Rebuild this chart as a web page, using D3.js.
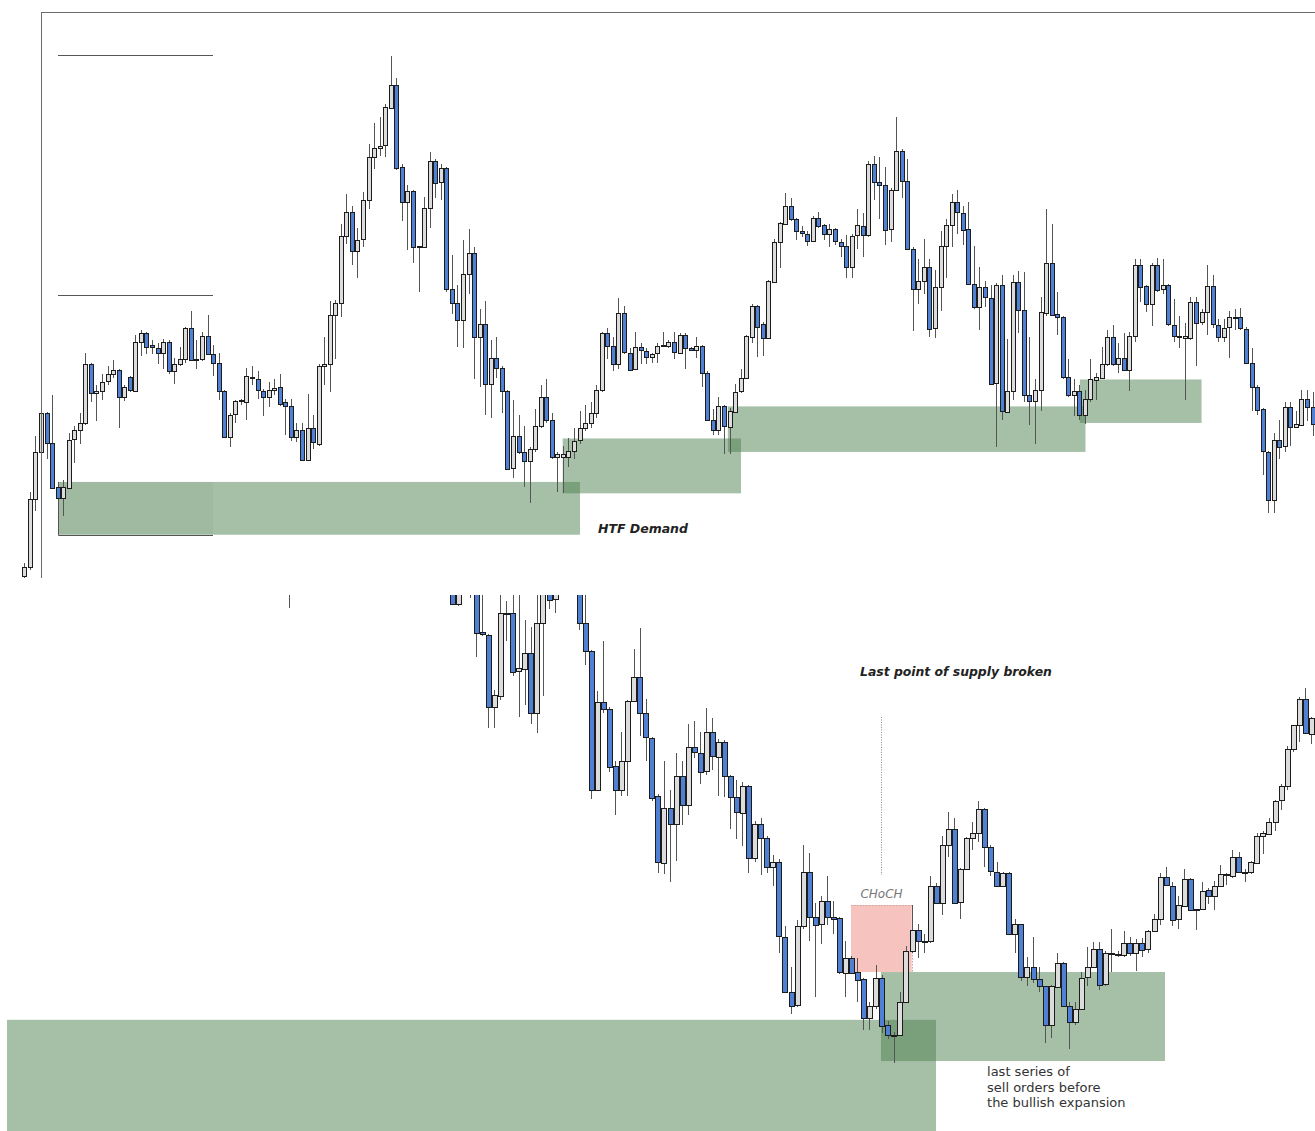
<!DOCTYPE html>
<html>
<meta charset="utf-8">
<style>
body { margin: 0; background: #fff; }
svg { display: block; }
.frame line { stroke: #6b6b6b; stroke-width: 1px; shape-rendering: crispEdges; }
.wick { stroke: #555; stroke-width: 1px; shape-rendering: crispEdges; }
.body { stroke: #1c1c1c; stroke-width: 1px; shape-rendering: crispEdges; }
.note { font-family: "DejaVu Sans", sans-serif; }
</style>
<body>
<svg width="1315" height="1131"></svg>
<script src="https://d3js.org/d3.v7.min.js"></script>
<script>

// upper chart, one row per bar: [open, high, low, close]
var topBars = [
  [42,55,22,51],[51,123,48,117],[117,177,105,162],[162,203,155,200],[200,201,155,171],
  [171,217,127,128],[128,130,100,117],[117,135,100,128],[128,180,127,174],[174,187,151,183],
  [183,200,170,190],[190,258,188,247],[247,248,210,219],[219,227,192,221],[221,237,212,230],
  [230,245,227,237],[237,251,233,241],[241,242,185,215],[215,227,211,225],[234,235,220,221],
  [221,275,220,268],[268,280,255,277],[277,278,257,263],[265,270,257,263],[262,267,247,257],
  [257,271,242,268],[268,270,237,240],[240,253,228,247],[247,263,245,252],[252,283,248,282],
  [282,298,250,251],[252,270,242,251],[252,278,250,274],[274,294,257,257],[257,265,235,248],
  [248,258,212,221],[221,222,175,177],[177,200,167,198],[198,212,190,211],[211,213,207,212],
  [210,243,193,235],[233,245,227,234],[232,240,213,221],[221,223,197,215],[215,230,205,222],
  [222,232,217,224],[225,237,206,209],[210,213,178,206],[206,213,173,176],[176,190,172,183],
  [183,190,154,154],[154,218,154,185],[185,198,165,171],[170,247,168,245],[245,273,227,247],
  [247,308,220,294],[294,309,252,306],[306,382,292,371],[371,411,363,394],[394,400,343,356],
  [356,378,330,367],[367,413,360,405],[405,460,397,447],[447,480,435,456],[456,486,448,458],
  [458,498,447,495],[495,545,493,517],[517,523,434,437],[437,440,385,403],[403,420,357,414],
  [414,415,345,360],[361,361,317,360],[360,408,360,398],[398,452,378,443],[443,445,407,422],
  [422,440,405,436],[436,437,317,319],[319,352,295,305],[306,323,263,290],[290,367,262,334],
  [334,377,315,354],[354,360,232,273],[273,300,225,286],[286,308,198,228],[228,270,195,253],
  [253,273,233,243],[243,245,200,221],[221,222,145,146],[146,212,137,177],[177,198,160,162],
  [162,187,128,153],[153,167,113,165],[165,203,162,187],[187,227,185,215],[215,232,190,193],
  [193,200,155,157],[157,162,123,160],[157,168,122,160],[157,175,147,163],[163,185,155,173],
  [173,202,170,185],[185,207,182,190],[190,210,185,200],[200,227,195,222],[222,278,220,277],
  [277,282,252,264],[264,273,240,247],[247,311,242,296],[296,303,257,258],[258,262,240,242],
  [242,278,241,263],[263,267,247,260],[260,262,247,254],[254,258,248,257],[257,267,248,264],
  [265,278,263,265],[264,270,262,268],[268,278,252,258],[258,277,257,275],[275,277,242,262],
  [262,263,260,260],[260,273,253,264],[264,265,225,238],[238,240,192,193],[193,203,178,183],
  [183,215,178,206],[206,207,160,187],[187,204,160,202],[201,228,200,220],[220,242,219,233],
  [233,275,232,274],[273,305,267,303],[303,304,254,283],[286,288,255,272],[272,328,271,327],
  [326,368,325,365],[365,384,340,383],[383,412,382,400],[400,407,385,387],[387,388,367,375],
  [375,380,370,373],[373,375,361,366],[366,390,365,388],[388,394,378,380],[381,382,367,372],
  [372,382,360,377],[377,378,362,365],[365,368,350,361],[361,372,330,341],[341,373,330,371],
  [371,397,358,381],[380,393,350,371],[371,443,370,440],[440,448,405,423],[423,447,387,420],
  [420,437,362,377],[377,417,365,415],[415,486,414,453],[453,455,407,424],[424,445,357,358],
  [358,360,279,319],[319,348,305,327],[327,368,315,341],[341,348,273,281],[281,338,272,321],
  [321,375,298,361],[361,387,330,381],[381,411,360,403],[403,415,373,393],[393,400,362,377],
  [377,403,323,324],[324,361,300,302],[302,341,280,321],[321,327,302,311],[311,323,227,228],
  [228,325,167,323],[323,333,193,201],[201,271,200,221],[221,333,212,326],[326,337,277,299],
  [299,336,210,217],[217,273,188,211],[211,232,170,222],[222,312,202,297],[297,397,293,345],
  [345,382,293,295],[295,317,275,292],[292,293,232,234],[234,252,215,217],[217,232,197,221],
  [221,227,193,198],[198,222,189,213],[213,252,210,232],[231,238,212,234],[233,263,232,247],
  [247,280,245,273],[273,285,245,247],[247,267,238,253],[253,277,240,241],[241,278,221,274],
  [274,348,268,343],[343,348,307,322],[322,323,297,305],[305,345,284,343],[343,349,317,319],
  [319,348,315,323],[323,324,284,285],[285,310,268,274],[274,293,262,274],[272,287,212,274],
  [272,312,270,307],[307,312,245,287],[287,300,285,297],[297,343,275,322],[322,333,282,285],
  [285,290,268,273],[273,290,268,282],[282,298,253,292],[292,300,280,292],[292,301,280,281],
  [281,283,247,248],[248,262,202,225],[225,227,198,203],[203,204,140,162],[162,163,103,116],
  [116,180,103,174],[174,193,155,167],[167,210,162,205],[205,210,168,186],[186,202,185,189],
  [188,222,187,213],[213,222,192,205],[205,220,177,189]
];

// lower chart: [bar, open, high, low, close]  (bars above the crop are left out)
var lowBars = [
  [-27,1640,1660,1534,1620],
  [0,1620,1640,1542,1545],[1,1545,1640,1540,1620],[3,1640,1660,1562,1620],[4,1620,1640,1395,1462],
  [5,1464,1620,1455,1457],[6,1457,1460,1190,1252],[7,1252,1300,1190,1285],[8,1282,1640,1270,1520],
  [9,1521,1555,1440,1520],[10,1520,1620,1338,1352],[11,1352,1620,1222,1362],[12,1360,1500,1255,1405],
  [13,1405,1480,1202,1232],[14,1232,1620,1175,1490],[15,1490,1640,1282,1620],[16,1580,1620,1530,1558],
  [17,1558,1620,1520,1590],
  [21,1620,1640,1470,1490],[22,1490,1620,1372,1410],[23,1410,1415,988,1012],[24,1012,1295,1010,1265],
  [25,1265,1440,1232,1245],[26,1245,1250,1065,1080],[27,1080,1095,942,1012],[28,1012,1178,995,1095],
  [29,1095,1270,995,1267],[30,1267,1418,1265,1335],[31,1335,1478,1168,1232],[32,1232,1272,1095,1162],
  [33,1162,1165,982,990],[34,995,1000,775,805],[35,805,1095,772,962],[36,962,1012,750,915],
  [37,915,1120,810,1052],[38,1052,1095,912,970],[39,970,1202,940,1135],[40,1135,1210,1105,1120],
  [41,1120,1180,1030,1065],[42,1065,1248,1055,1178],[43,1178,1220,1070,1108],[44,1108,1160,995,1150],
  [45,1150,1155,992,1052],[46,1052,1055,900,992],[47,992,1040,872,948],[48,948,1035,852,1025],
  [49,1025,1028,775,818],[50,818,925,805,915],[51,915,932,770,875],[52,875,880,775,792],
  [53,792,825,738,805],[54,805,815,545,592],[55,592,622,430,435],[56,435,505,372,395],
  [57,395,640,390,622],[58,622,855,615,778],[59,778,832,580,650],[60,650,690,420,628],
  [61,628,710,570,695],[62,695,765,625,650],[63,648,695,600,642],[64,645,650,485,490],
  [65,490,580,420,532],[66,532,538,485,490],[67,492,532,405,470],[68,472,475,325,360],
  [69,360,405,325,395],[70,395,510,385,475],[71,475,482,315,338],[72,338,350,300,310],
  [73,311,320,230,310],[74,310,435,310,405],[75,405,565,402,552],[76,552,682,545,612],
  [77,612,628,532,580],[78,580,600,545,581],[79,580,765,575,738],[80,738,745,688,690],
  [81,690,880,655,855],[82,855,950,820,902],[83,902,932,688,690],[84,690,788,642,785],
  [85,785,878,782,875],[86,875,922,840,888],[87,888,980,865,957],[88,957,960,792,848],
  [89,848,855,765,778],[90,778,805,738,738],[91,738,778,738,775],[92,775,778,598,600],
  [93,600,642,545,628],[94,628,630,465,475],[95,475,535,452,505],[96,505,592,460,470],
  [97,470,505,435,450],[98,450,452,288,338],[99,338,455,302,450],[100,450,545,448,518],
  [101,518,520,392,395],[102,395,405,270,348],[103,348,405,338,385],[104,385,490,382,475],
  [105,475,562,450,505],[106,505,578,502,558],[107,558,578,440,455],[108,455,550,452,545],
  [109,545,615,490,546],[110,542,550,535,543],[111,540,610,535,575],[112,575,590,538,545],
  [113,545,585,495,575],[114,575,588,535,555],[115,555,612,545,608],[116,608,658,605,642],
  [117,642,775,625,762],[118,762,792,738,738],[119,738,750,622,642],[120,642,708,615,682],
  [121,682,785,680,758],[122,758,760,668,670],[123,670,672,612,671],[124,670,750,668,722],
  [125,725,732,685,708],[126,710,752,670,738],[127,738,798,735,772],[128,772,775,740,773],
  [129,765,842,760,820],[130,820,835,775,778],[131,778,785,750,779],[132,775,808,772,805],
  [133,805,888,802,882],[134,880,895,830,888],[135,888,932,885,922],[136,922,985,895,982],
  [137,985,1030,955,1025],[138,1025,1138,1012,1130],[139,1130,1200,1122,1198],[140,1198,1278,1150,1272],
  [141,1272,1305,1172,1175],[142,1175,1222,1145,1220],[143,1220,1222,1145,1150]
];

// zones in bar / price units
var topZones = [
  { from: 6.07,  to: 100.07, hi: 133, lo: 82 },
  { from: 96.96, to: 129.07, hi: 175, lo: 122 },
  { from: 126.7, to: 191.1,  hi: 206, lo: 162 },
  { from: 190.1, to: 212.0,  hi: 232, lo: 190 }
];
var topBox = { from: 6.07, to: 33.98, hi: 133, lo: 82 };
var topLevels = [545.5, 313.6];

var lowZones = [
  { from: -73.55, to: 80.0,   hi: 354, lo: -60 },
  { from: 70.9,   to: 117.85, hi: 491, lo: 236 }
];
var chochBox = { from: 65.95, to: 75.98, hi: 683, lo: 491 };
var chochLine = { bar: 70.96, hi: 1222, lo: 769 };

var topNotes = [ { bar: 103.3, price: 83.2, text: "HTF Demand" } ];
var lowNotes = [
  { bar: 67.44, price: 1339, text: "Last point of supply broken", bold: true },
  { bar: 70.99, price: 703,  text: "CHoCH", mid: true },
  { bar: 88.43, price: 191.7, text: "last series of" },
  { bar: 88.43, price: 148.7, text: "sell orders before" },
  { bar: 88.43, price: 105.7, text: "the bullish expansion" }
];

var svg = d3.select("svg");

var xTop = d3.scaleLinear().domain([0, 232]).range([24.3, 1312.6]),
    yTop = d3.scaleLinear().domain([0, 560]).range([619.6, 40]);
var xLow = d3.scaleLinear().domain([0, 143]).range([452, 1317.2]),
    yLow = d3.scaleLinear().domain([0, 1600]).range([1143.4, 585]);

var defs = svg.append("defs");
defs.append("clipPath").attr("id", "clipTop")
  .append("rect").attr("x", 0).attr("y", 12).attr("width", 1315).attr("height", 566);
defs.append("clipPath").attr("id", "clipLow")
  .append("rect").attr("x", 0).attr("y", 595).attr("width", 1315).attr("height", 536);

var up = "#dcdcdc", down = "#4f80d4", zoneFill = "#4d7f4f";

function drawZones(g, zones, x, y) {
  g.selectAll("rect.zone")
    .data(zones)
    .enter().append("rect")
      .attr("class", "zone")
      .attr("x", function(d) { return x(d.from); })
      .attr("width", function(d) { return x(d.to) - x(d.from); })
      .attr("y", function(d) { return y(d.hi); })
      .attr("height", function(d) { return y(d.lo) - y(d.hi); })
      .attr("fill", zoneFill)
      .attr("fill-opacity", 0.5);
}

function drawCandles(g, bars, x, y, w) {
  var c = g.selectAll("g.bar")
    .data(bars)
    .enter().append("g")
      .attr("class", "bar");

  c.append("line")
      .attr("class", "wick")
      .attr("x1", function(d) { return Math.round(x(d.i)) + 0.5; })
      .attr("x2", function(d) { return Math.round(x(d.i)) + 0.5; })
      .attr("y1", function(d) { return y(d.h); })
      .attr("y2", function(d) { return y(d.l); });

  c.append("rect")
      .attr("class", "body")
      .attr("x", function(d) { return Math.round(x(d.i) - w / 2) + 0.5; })
      .attr("width", Math.round(w))
      .attr("y", function(d) { return Math.round(y(Math.max(d.o, d.c))) + 0.5; })
      .attr("height", function(d) {
        return Math.max(1, Math.round(y(Math.min(d.o, d.c)) - y(Math.max(d.o, d.c))));
      })
      .attr("fill", function(d) { return d.c >= d.o ? up : down; });
}

// ---- upper chart
var topData = topBars.map(function(r, i) { return { i: i, o: r[0], h: r[1], l: r[2], c: r[3] }; });
var gTop = svg.append("g").attr("clip-path", "url(#clipTop)");

drawZones(gTop, topZones, xTop, yTop);

gTop.append("rect")
    .attr("x", xTop(topBox.from))
    .attr("width", xTop(topBox.to) - xTop(topBox.from))
    .attr("y", yTop(topBox.hi))
    .attr("height", yTop(topBox.lo) - yTop(topBox.hi))
    .attr("fill", "#2f5a33")
    .attr("fill-opacity", 0.05);
gTop.append("path")
    .attr("d", "M" + (Math.round(xTop(topBox.from)) + 0.5) + "," + yTop(topBox.hi) +
               "V" + (Math.round(yTop(topBox.lo)) + 0.5) + "H" + xTop(topBox.to))
    .attr("fill", "none")
    .attr("stroke", "#555")
    .attr("stroke-width", 1);

gTop.selectAll("line.level")
  .data(topLevels)
  .enter().append("line")
    .attr("class", "level")
    .attr("x1", xTop(topBox.from)).attr("x2", xTop(topBox.to))
    .attr("y1", function(d) { return Math.round(yTop(d)) + 0.5; })
    .attr("y2", function(d) { return Math.round(yTop(d)) + 0.5; })
    .attr("stroke", "#555")
    .attr("stroke-width", 1);

drawCandles(gTop, topData, xTop, yTop, 4);

var frame = svg.append("g").attr("class", "frame");
frame.append("line").attr("x1", 41).attr("x2", 1315).attr("y1", 12.5).attr("y2", 12.5);
frame.append("line").attr("x1", 41.5).attr("x2", 41.5).attr("y1", 12).attr("y2", 578);

topNotes.forEach(function(n) {
  svg.append("text")
      .attr("class", "note")
      .attr("x", xTop(n.bar))
      .attr("y", yTop(n.price))
      .attr("font-size", "12.5px")
      .attr("font-weight", "bold")
      .attr("font-style", "italic")
      .attr("fill", "#222")
      .text(n.text);
});

// ---- lower chart
var lowData = lowBars.map(function(r) { return { i: r[0], o: r[1], h: r[2], l: r[3], c: r[4] }; });
var gLow = svg.append("g").attr("clip-path", "url(#clipLow)");

drawZones(gLow, lowZones, xLow, yLow);

gLow.append("rect")
    .attr("x", xLow(chochBox.from))
    .attr("width", xLow(chochBox.to) - xLow(chochBox.from))
    .attr("y", yLow(chochBox.hi))
    .attr("height", yLow(chochBox.lo) - yLow(chochBox.hi))
    .attr("fill", "#f7c3be");
gLow.append("path")
    .attr("d", "M" + xLow(chochBox.from) + "," + (Math.round(yLow(chochBox.hi)) + 0.5) +
               "H" + (Math.round(xLow(chochBox.to)) + 0.5) + "V" + yLow(chochBox.lo))
    .attr("fill", "none")
    .attr("stroke", "#c9a3a0")
    .attr("stroke-dasharray", "1.5,1.5");

gLow.append("line")
    .attr("x1", Math.round(xLow(chochLine.bar)) + 0.5)
    .attr("x2", Math.round(xLow(chochLine.bar)) + 0.5)
    .attr("y1", yLow(chochLine.hi))
    .attr("y2", yLow(chochLine.lo))
    .attr("stroke", "#8a8a8a")
    .attr("stroke-dasharray", "1,1.5");

drawCandles(gLow, lowData, xLow, yLow, 4.6);

lowNotes.forEach(function(n) {
  var t = svg.append("text")
      .attr("class", "note")
      .attr("x", xLow(n.bar))
      .attr("y", yLow(n.price))
      .text(n.text);
  if (n.bold) {
    t.attr("font-size", "12.4px").attr("font-weight", "bold").attr("font-style", "italic").attr("fill", "#222");
  } else if (n.mid) {
    t.attr("font-size", "12px").attr("font-style", "italic").attr("fill", "#777").attr("text-anchor", "middle");
  } else {
    t.attr("font-size", "13px").attr("fill", "#333");
  }
});

</script>
</body>
</html>
